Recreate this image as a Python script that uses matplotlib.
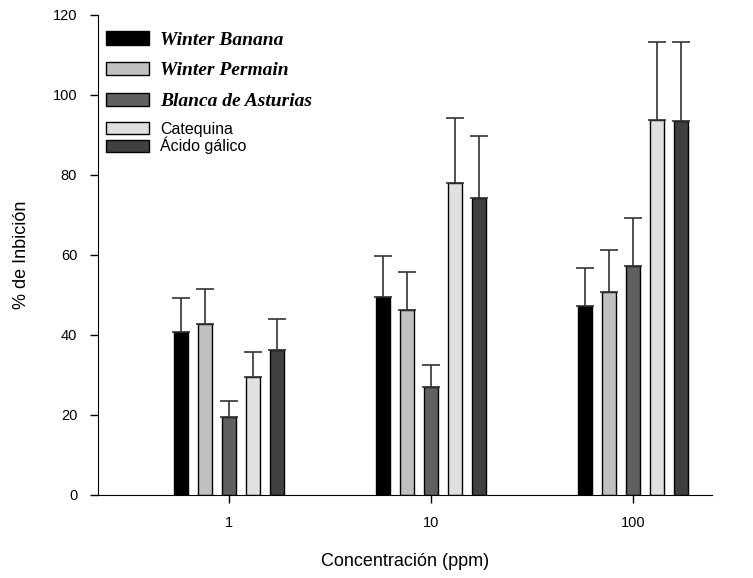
import numpy as np
import matplotlib.pyplot as plt

plt.rcParams['font.family'] = ['Liberation Sans', 'DejaVu Sans']

concentrations = ['1', '10', '100']
series = ['Winter Banana', 'Winter Permain', 'Blanca de Asturias', 'Catequina', 'Ácido gálico']
means = [
    [40.8, 49.5, 47.3],
    [42.8, 46.3, 50.7],
    [19.6, 26.9, 57.3],
    [29.5, 78.0, 93.7],
    [36.3, 74.2, 93.5],
]
errors = [
    [8.4, 10.3, 9.5],
    [8.8, 9.5, 10.6],
    [3.9, 5.5, 11.9],
    [6.2, 16.3, 19.5],
    [7.6, 15.5, 19.7],
]
colors = ['#000000', '#c0c0c0', '#606060', '#e0e0e0', '#404040']

fig = plt.figure(figsize=(7.53, 5.78), dpi=100)
ax = fig.add_axes((98/753, 1 - 495/578, 614/753, 480/578))

x = np.arange(len(concentrations))
step = 0.1188
width = 0.074
handles = []
for i, (name, m, e, c) in enumerate(zip(series, means, errors, colors)):
    pos = x + (i - 2) * step
    bars = ax.bar(pos, m, width, color=c, edgecolor='black', linewidth=1, label=name,
                  yerr=[np.zeros(len(e)), e], capsize=6.5,
                  error_kw=dict(ecolor='#333333', elinewidth=1.2, capthick=1.2))
    handles.append(bars.patches[0])

ax.set_xlim(-0.6485, 2.391)
ax.set_ylim(0, 120)
ax.set_yticks(np.arange(0, 121, 20))
ax.set_xticks(x)
ax.set_xticklabels(concentrations)
ax.spines['top'].set_visible(False)
ax.spines['right'].set_visible(False)
ax.tick_params(labelsize=10.5, length=6, width=1, direction='out', pad=9)
ax.set_xlabel('Concentración (ppm)', fontsize=13, labelpad=17)
ax.set_ylabel('% de Inbición', fontsize=13, labelpad=16)

# cultivar names in a script-like italic, the two standards in plain sans
leg1 = ax.legend(handles[:3], series[:3], loc='upper left', bbox_to_anchor=(0.013, 0.966),
                 frameon=False, borderpad=0, borderaxespad=0,
                 prop=dict(family=['Liberation Serif', 'DejaVu Serif'], style='italic',
                           weight='bold', size=14),
                 handlelength=2.2, handleheight=0.67, labelspacing=0.68, handletextpad=0.6)
ax.add_artist(leg1)
ax.legend(handles[3:], series[3:], loc='upper left', bbox_to_anchor=(0.013, 0.778),
          frameon=False, borderpad=0, borderaxespad=0, fontsize=11.5,
          handlelength=2.68, handleheight=0.81, labelspacing=0.02, handletextpad=0.69)

fig.savefig('out.png', dpi=100)
